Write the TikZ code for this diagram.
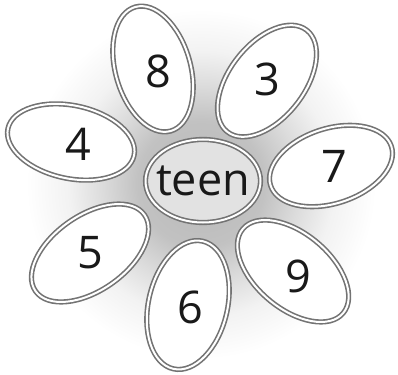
\documentclass[tikz,border=0pt]{standalone}
\usepackage{fontspec}
\setmainfont{Open Sans}
\usetikzlibrary{shapes.geometric}
\definecolor{RimGrey}{RGB}{115, 115, 115}
\definecolor{HubGrey}{RGB}{226, 226, 226}
\pgfdeclareradialshading{glow}{\pgfpoint{0bp}{0bp}}{%
  color(0bp)=(black!28); color(9bp)=(black!24); color(14bp)=(black!14);
  color(19bp)=(black!5); color(25bp)=(white); color(50bp)=(white)}
\tikzset{
  petal/.style={ellipse, draw=RimGrey, double=white, double distance=2pt,
                line width=1.6pt, fill=white, inner sep=0pt,
                minimum width=2*#1},
  hub/.style={ellipse, draw=RimGrey, double=white, double distance=2pt,
              line width=1.6pt, fill=HubGrey, inner sep=0pt,
              minimum width=115pt, minimum height=83pt},
  numtext/.style={font=\fontsize{45}{45}\selectfont, text=black!90},
}
\begin{document}
\begin{tikzpicture}[x=1pt, y=-1pt]
      \useasboundingbox (0,0) rectangle (398,374);
      \fill[white] (0,0) rectangle (398,374);
      \shade[shading=glow] (201,184) circle (175);

      \node[hub] (teen) at (203,181) {};
      \node[numtext] (teenlbl) at (teen) {teen};

      \node[petal=64.5pt, minimum height=75pt, rotate=106] (p8) at (153,69) {};
      \node[petal=64.5pt, minimum height=75pt, rotate=52]  (p3) at (267,81) {};
      \node[petal=64.5pt, minimum height=73pt, rotate=-12] (p4) at (71,142) {};
      \node[petal=63.5pt, minimum height=75pt, rotate=18]  (p7) at (331,166) {};
      \node[petal=66.5pt, minimum height=75pt, rotate=35]  (p5) at (90,253) {};
      \node[petal=65.5pt, minimum height=79pt, rotate=77]  (p6) at (188,305) {};
      \node[petal=65.5pt, minimum height=75pt, rotate=-40] (p9) at (293,271) {};

      \node[numtext] (n8) at ([xshift=5pt,yshift=-2pt]p8.center) {8};
      \node[numtext] (n3) at ([yshift=2pt]p3.center) {3};
      \node[numtext] (n4) at ([xshift=7pt,yshift=-2pt]p4.center) {4};
      \node[numtext] (n7) at ([xshift=3pt]p7.center) {7};
      \node[numtext] (n5) at (p5) {5};
      \node[numtext] (n6) at ([xshift=2pt,yshift=-2pt]p6.center) {6};
      \node[numtext] (n9) at ([xshift=5pt,yshift=-5pt]p9.center) {9};
    \end{tikzpicture}
\end{document}
